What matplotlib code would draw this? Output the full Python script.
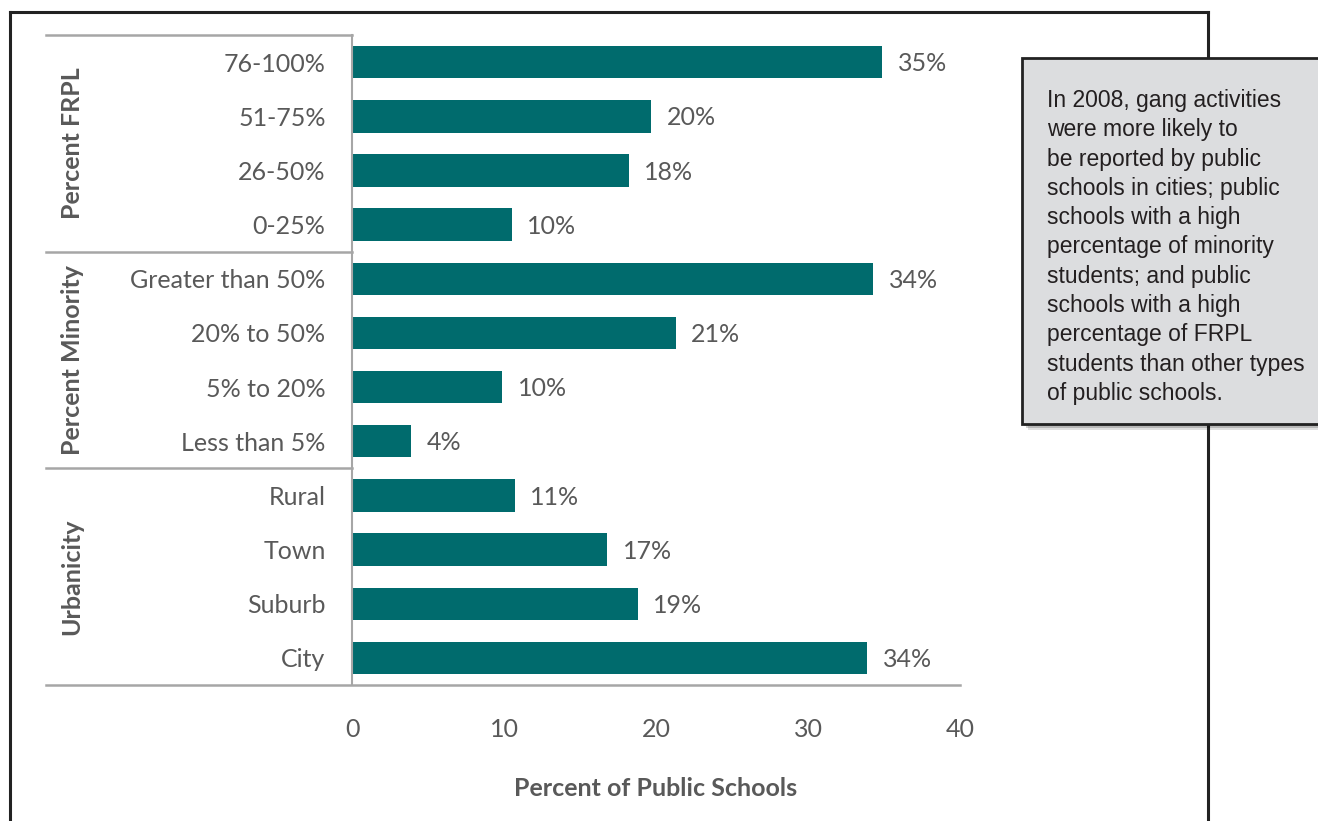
import matplotlib
matplotlib.use('Agg')
import matplotlib.pyplot as plt
from matplotlib.patches import Rectangle
from matplotlib.lines import Line2D

## DATA
categories = ['76-100%', '51-75%', '26-50%', '0-25%',
              'Greater than 50%', '20% to 50%', '5% to 20%', 'Less than 5%',
              'Rural', 'Town', 'Suburb', 'City']
values = [34.9, 19.7, 18.2, 10.5, 34.3, 21.3, 9.9, 3.9, 10.7, 16.8, 18.8, 33.9]
value_labels = ['35%', '20%', '18%', '10%', '34%', '21%', '10%', '4%',
                '11%', '17%', '19%', '34%']
groups = ['Percent FRPL', 'Percent Minority', 'Urbanicity']
group_size = [4, 4, 4]
xticks = [0, 10, 20, 30, 40]
note = ("In 2008, gang activities\nwere more likely to\nbe reported by public\n"
        "schools in cities; public\nschools with a high\npercentage of minority\n"
        "students; and public\nschools with a high\npercentage of FRPL\n"
        "students than other types\nof public schools.")

## STYLE
W, H = 1318, 821
BAR = '#006b6d'
GREY_TXT = '#595959'
GREY_LINE = '#a6a6a6'
FONT = 'Lato'
FS = 18


def fx(px):
    return px / W


def fy(py):
    return 1 - py / H


fig = plt.figure(figsize=(W / 100, H / 100), dpi=100)
fig.patch.set_facecolor('white')

ax = fig.add_axes([fx(352), fy(685), fx(960) - fx(352), fy(35) - fy(685)])
n = len(categories)
ypos = [n - 1 - i for i in range(n)]
ax.barh(ypos, values, height=0.6, color=BAR)
ax.set_xlim(0, 40)
ax.set_ylim(-0.5, n - 0.5)

for y, v, lab in zip(ypos, values, value_labels):
    ax.text(v + 1.0, y - 0.03, lab, va='center', ha='left', fontsize=FS,
            color=GREY_TXT, family=FONT)

ax.set_yticks(ypos)
ax.set_yticklabels(categories, fontsize=FS, color=GREY_TXT, family=FONT)
ax.set_xticks(xticks)
ax.set_xticklabels([str(t) for t in xticks], fontsize=FS, color=GREY_TXT, family=FONT)
ax.tick_params(axis='y', length=0, pad=19)
ax.tick_params(axis='x', length=0, pad=24)
for s in ax.spines.values():
    s.set_visible(False)
ax.set_xlabel('Percent of Public Schools', fontsize=FS, fontweight='bold',
              color=GREY_TXT, family=FONT, labelpad=26)

# vertical axis line at x=0
ax.plot([0, 0], [-0.5, n - 0.5], color=GREY_LINE, lw=1.5, clip_on=False)

# group separators and labels
tr = ax.get_yaxis_transform()
left = (46 - 352) / (960 - 352)
start = n - 0.5
for g, size in zip(groups, group_size):
    ax.plot([left, 0], [start, start], color=GREY_LINE, lw=1.8,
            transform=tr, clip_on=False)
    mid = start - size / 2
    ax.text((72 - 352) / (960 - 352), mid, g, rotation=90, va='center', ha='center',
            fontsize=FS, fontweight='bold', color=GREY_TXT, family=FONT,
            transform=tr)
    start -= size
ax.plot([left, 1], [-0.5, -0.5], color=GREY_LINE, lw=1.8,
        transform=tr, clip_on=False)

# outer frame (behind the note box)
frame_kw = dict(color='#222222', lw=2.2, transform=fig.transFigure, zorder=1)
fig.add_artist(Line2D([fx(10), fx(10)], [fy(12), 0], **frame_kw))
fig.add_artist(Line2D([fx(1208), fx(1208)], [fy(12), 0], **frame_kw))
fig.add_artist(Line2D([fx(10), fx(1208)], [fy(12), fy(12)], **frame_kw))

# note box with shadow
bx0, bx1, by0, by1 = 1022, 1330, 58, 424
for k, a in [(6, 0.12), (4, 0.18), (2, 0.25)]:
    fig.add_artist(Rectangle((fx(bx0 + k), fy(by1 + k)), fx(bx1) - fx(bx0),
                             fy(by0) - fy(by1), transform=fig.transFigure,
                             facecolor='black', edgecolor='none', alpha=a, zorder=2))
fig.add_artist(Rectangle((fx(bx0), fy(by1)), fx(bx1) - fx(bx0), fy(by0) - fy(by1),
                         transform=fig.transFigure, facecolor='#dcdddf',
                         edgecolor='#222222', lw=2, zorder=3))
fig.text(fx(1047), fy(89), note, va='top', ha='left', fontsize=16.5,
         family='Liberation Sans', color='#231f20', linespacing=1.35, zorder=4)

fig.savefig('out.png', dpi=100)
